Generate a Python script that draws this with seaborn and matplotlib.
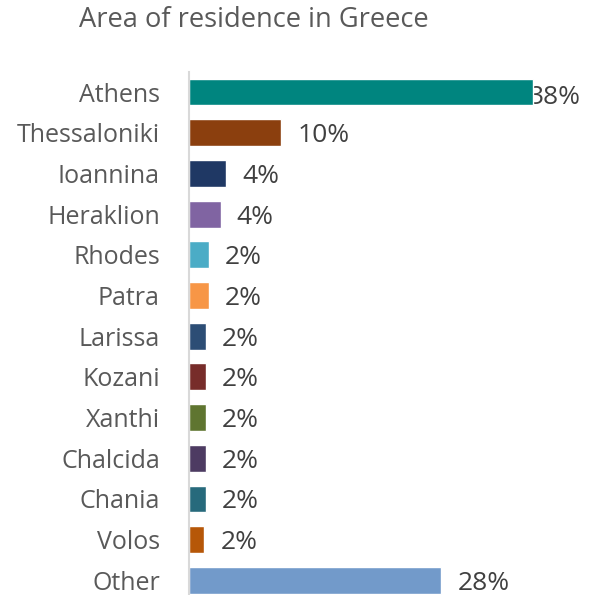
import matplotlib
matplotlib.use("Agg")
import matplotlib.pyplot as plt
import seaborn as sns
import pandas as pd

# Share of respondents by area of residence (%)
areas = ["Athens", "Thessaloniki", "Ioannina", "Heraklion", "Rhodes", "Patra",
         "Larissa", "Kozani", "Xanthi", "Chalcida", "Chania", "Volos", "Other"]
shares = [38.0, 10.2, 4.1, 3.5, 2.2, 2.2, 1.9, 1.9, 1.9, 1.9, 1.9, 1.7, 27.9]
colors = ["#00857F", "#8B3F0E", "#1F3864", "#8064A2", "#4BACC6", "#F79646",
          "#2C4D75", "#772C2A", "#5F7530", "#4D3B62", "#276A7C", "#B65708",
          "#729ACA"]

df = pd.DataFrame({"area": areas, "share": shares})

sns.set_theme(style="white")
plt.rcParams["font.family"] = ["Open Sans", "DejaVu Sans"]

W, H = 589, 595
fig = plt.figure(figsize=(W / 100, H / 100), dpi=100)
ax = fig.add_axes([189 / W, (H - 600.7) / H, 362 / W, 529 / H])

sns.barplot(data=df, y="area", x="share", hue="area",
            palette=dict(zip(areas, colors)), orient="h", saturation=1,
            width=0.66, legend=False, ax=ax, zorder=2)

ax.set_xlim(0, 40)
ax.set_xlabel("")
ax.set_ylabel("")
ax.set_xticks([])
for side in ["top", "right", "bottom"]:
    ax.spines[side].set_visible(False)
ax.spines["left"].set_color("#D9D9D9")
ax.spines["left"].set_linewidth(1.5)
ax.tick_params(axis="y", length=0, pad=21, labelsize=18, labelcolor="#595959")

# value labels to the right of each bar, kept inside the figure
px_per_unit = 362 / 40
for i, v in enumerate(shares):
    label = f"{v:.0f}%"
    x_px = 189 + v * px_per_unit + 16
    if x_px + 50 > 582:
        ax.text(581 / W, 1 - (94 / H), label, transform=fig.transFigure,
                ha="right", va="center_baseline", fontsize=19, color="#404040",
                zorder=1)
    else:
        ax.text(v + 16 / px_per_unit, i, label, ha="left", va="center_baseline",
                fontsize=19, color="#404040", zorder=1)

fig.text(254 / W, 1 - 20 / H, "Area of residence in Greece", ha="center",
         va="center", fontsize=19.6, color="#595959")

fig.savefig("out.png", dpi=100)
